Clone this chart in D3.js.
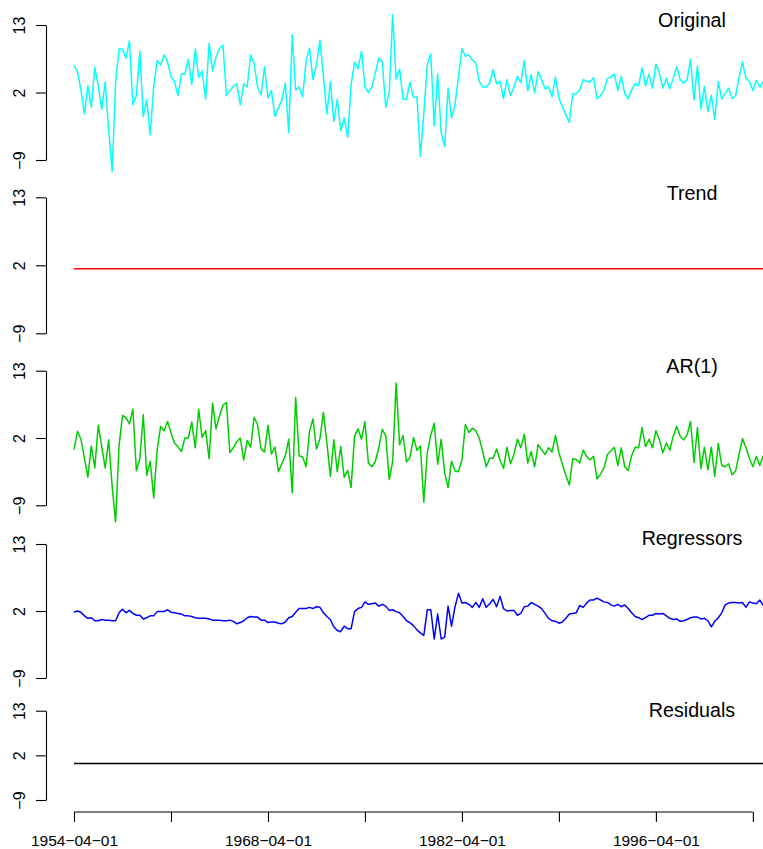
<!DOCTYPE html>
<html>
<head>
<meta charset="utf-8">
<script src="https://cdn.jsdelivr.net/npm/d3@7"></script>
<style>
    body { margin: 0; background: #ffffff; }
    svg { display: block; font-family: "Liberation Sans", Arial, sans-serif; }
</style>
</head>
<body>
<script>
//Quarterly series, first observation 1954-04-01
var original = [
    6.4, 5.4, 2.4, -1.5, 3.1, -0.4, 6.1, 3.0, -0.7, 3.7,
    -4.1, -10.9, 3.6, 9.1, 9.1, 7.6, 10.4, 0.0, 1.5, 8.7,
    -1.9, 0.8, -4.9, 3.0, 7.2, 6.5, 8.1, 7.0, 4.6, 3.8,
    1.5, 5.0, 5.0, 7.4, 3.3, 9.1, 4.5, 5.5, 0.9, 10.0,
    5.5, 7.8, 9.2, 9.7, 1.5, 2.3, 3.0, 3.4, 0.0, 3.4,
    2.9, 8.1, 6.8, 2.9, 1.6, 6.2, 1.1, 2.3, -1.9, -0.5,
    0.8, 3.5, -4.5, 11.4, 2.4, 2.9, 1.3, 7.2, 9.2, 4.1,
    6.5, 10.5, 4.6, -1.5, 3.8, -2.7, 0.9, -4.2, -2.2, -5.3,
    3.3, 6.9, 5.9, 8.7, 3.0, 2.0, 2.9, 5.2, 7.6, 7.0,
    -0.4, 1.9, 14.7, 4.2, 5.8, 0.9, 0.9, 3.7, 1.2, 1.3,
    -8.4, -1.4, 6.5, 8.3, -3.4, 5.0, -4.6, -6.8, 2.7, -2.2,
    0.0, 4.6, 9.1, 7.9, 8.1, 7.3, 6.8, 3.8, 2.9, 2.9,
    3.5, 5.7, 3.4, 3.8, 1.0, 4.1, 1.5, 2.9, 4.6, 3.6,
    7.2, 2.3, 4.9, 1.9, 5.4, 4.1, 2.6, 2.9, 1.3, 4.5,
    1.1, -0.3, -1.6, -2.9, 1.8, 1.8, 2.4, 4.1, 3.8, 3.7,
    4.4, 1.0, 1.5, 2.4, 4.3, 4.5, 5.0, 2.3, 4.6, 1.8,
    1.0, 2.4, 3.5, 3.1, 6.0, 3.1, 5.0, 2.7, 6.6, 5.2,
    2.7, 4.3, 2.6, 4.3, 6.2, 4.1, 3.5, 4.1, 7.4, 0.8,
    6.3, -0.7, 3.0, -1.1, 1.5, -2.4, 3.8, 0.9, 1.9, 2.7,
    1.0, 1.5, 4.4, 7.0, 4.3, 3.8, 2.3, 4.0, 2.9, 3.8
];

var ar1 = [
    0.1, 3.1, 1.8, -1.3, -4.4, 0.7, -2.9, 4.1, 0.6, -2.9,
    1.7, -5.9, -11.7, 0.7, 5.7, 5.3, 4.3, 6.7, -3.3, -1.4,
    5.8, -4.1, -1.8, -7.8, 0.1, 3.9, 3.2, 4.7, 2.9, 1.2,
    0.6, -0.2, 2.0, 2.0, 4.6, 0.4, 6.7, 2.1, 3.2, -1.4,
    7.7, 3.5, 5.6, 7.4, 7.8, -0.4, 0.4, 1.4, 2.0, -1.6,
    1.6, 0.5, 5.4, 4.2, 0.2, -0.3, 4.1, -0.6, 0.5, -3.5,
    -2.2, -0.9, 1.8, -7.0, 8.6, -0.9, -1.1, -2.7, 3.1, 5.1,
    0.2, 1.9, 6.2, 1.2, -4.3, 1.7, -3.5, 0.6, -4.4, -3.3,
    -6.1, 2.3, 3.5, 1.8, 4.7, -2.1, -2.7, -1.8, 0.4, 3.4,
    2.3, -4.8, -1.8, 11.0, 0.9, 2.4, -1.9, -1.2, 2.1, 0.0,
    0.7, -8.5, -0.4, 2.5, 4.4, -2.3, 1.8, -3.7, -6.1, -1.8,
    -3.4, -3.5, -1.6, 4.2, 2.9, 3.6, 3.2, 2.0, -0.2, -2.7,
    -1.3, -1.3, 0.2, -1.6, -3.0, 0.5, -2.2, -0.7, 1.8, 0.4,
    2.6, -2.1, -0.2, -2.7, 0.9, 0.1, -0.7, 0.4, -0.3, 2.4,
    -0.4, -2.3, -4.1, -5.7, -1.4, -1.5, -2.1, 0.0, -1.0, -1.6,
    -1.0, -4.7, -3.9, -2.9, -0.7, -0.1, 0.5, -2.5, 0.4, -2.7,
    -3.3, -0.9, 0.5, 0.4, 3.7, 0.6, 1.8, 0.4, 3.2, 1.7,
    -0.4, 1.2, 0.0, 2.3, 3.9, 2.3, 1.7, 2.5, 4.7, -2.0,
    3.7, -3.0, 0.5, -3.2, 0.5, -4.3, 1.1, -2.5, -2.7, -2.2,
    -4.0, -3.4, -0.7, 1.9, 0.4, -1.3, -2.7, -1.0, -2.5, -0.9
];

var regressors = [
    1.8, 2.0, 1.8, 1.2, 0.8, 0.9, 0.4, 0.4, 0.6, 0.5,
    0.5, 0.4, 0.4, 1.7, 2.3, 1.7, 2.1, 1.6, 1.3, 1.3,
    0.7, 0.9, 1.2, 1.2, 1.9, 1.9, 1.9, 2.2, 1.8, 1.7,
    1.6, 1.5, 1.2, 1.2, 1.1, 0.9, 0.8, 0.8, 0.8, 0.7,
    0.5, 0.5, 0.5, 0.4, 0.4, 0.5, 0.3, -0.1, 0.1, 0.4,
    0.9, 1.1, 1.0, 1.0, 0.5, 0.5, 0.1, 0.2, 0.2, 0.0,
    -0.1, 0.2, 0.9, 1.1, 1.8, 2.4, 2.4, 2.4, 2.6, 2.4,
    2.7, 2.6, 1.7, 1.1, 0.6, -0.6, -1.2, -1.4, -0.5, -0.9,
    -0.9, 1.9, 2.4, 2.6, 3.5, 3.1, 3.2, 3.3, 2.8, 3.1,
    2.8, 2.1, 2.2, 1.9, 1.7, 1.1, 0.4, 0.1, -0.4, -1.1,
    -1.6, -2.0, 2.2, 2.2, -2.6, 1.5, -2.6, -2.3, 2.8, -0.5,
    2.7, 4.9, 3.3, 3.4, 3.1, 2.6, 3.4, 2.6, 4.0, 2.6,
    3.2, 3.9, 2.7, 4.4, 2.4, 2.0, 2.1, 2.1, 1.3, 1.6,
    2.7, 2.8, 3.4, 3.1, 2.8, 2.4, 1.6, 0.8, 0.4, 0.3,
    0.0, 0.2, 0.8, 1.5, 1.6, 1.7, 2.9, 2.6, 3.3, 3.8,
    3.8, 4.1, 3.8, 3.5, 3.4, 3.0, 2.8, 3.1, 2.7, 3.0,
    2.4, 1.7, 1.1, 0.9, 0.6, 0.9, 1.3, 1.3, 1.6, 1.5,
    1.6, 1.2, 0.8, 0.6, 0.7, 0.3, 0.4, 0.6, 0.9, 1.0,
    1.0, 0.7, 0.8, 0.4, -0.6, 0.3, 0.9, 1.7, 3.0, 3.3,
    3.4, 3.4, 3.3, 3.4, 2.6, 3.5, 3.3, 3.2, 3.8, 2.9
];

//Trend and residuals are flat: value at first and last quarter
var trend = [1.45, 1.45];
var residuals = [0.0, 0.0];

var panelTitles = ["Original", "Trend", "AR(1)", "Regressors", "Residuals"];
var yTicks = [13, 2, -9];
var xTickDates = ["1954-04-01", "1961-04-01", "1968-04-01", "1975-04-01",
    "1982-04-01", "1989-04-01", "1996-04-01", "2003-04-01"];
var xTickLabels = ["1954\u221204\u221201", "", "1968\u221204\u221201", "",
    "1982\u221204\u221201", "", "1996\u221204\u221201", ""];

//Page size
var width = 763,
    height = 849;

var parseDate = d3.timeParse("%Y-%m-%d");
var startDate = parseDate("1954-04-01");

//One date per quarter
var dates = original.map(function(d, i) {
    return d3.timeMonth.offset(startDate, 3 * i);
});
var endDate = dates[dates.length - 1];

//Pixel rows of the 13 and -9 ticks for each panel, plus title baseline
var panels = [
    {series: original, color: "#00ffff", top: 25, bottom: 160, titleY: 26.5},
    {series: trend, color: "#ff0000", top: 197.3, bottom: 333.3, titleY: 200},
    {series: ar1, color: "#00cd00", top: 370.7, bottom: 505.3, titleY: 372.7},
    {series: regressors, color: "#0000ff", top: 544, bottom: 678, titleY: 545},
    {series: residuals, color: "#000000", top: 710.7, bottom: 800, titleY: 716.7}
];

var svg = d3.select("body").append("svg")
    .attr("width", width)
    .attr("height", height);

svg.append("rect")
    .attr("width", width)
    .attr("height", height)
    .attr("fill", "#ffffff");

//Shared time scale
var x = d3.scaleTime()
    .domain([startDate, endDate])
    .range([74, 763.3]);

var axisX = 46;

panels.forEach(function(p, k) {
    var y = d3.scaleLinear()
        .domain([-9, 13])
        .range([p.bottom, p.top]);

    //Y axis with rotated labels
    var gy = svg.append("g")
        .attr("transform", "translate(" + axisX + ",0)")
        .call(d3.axisLeft(y)
            .tickValues(yTicks)
            .tickSize(10)
            .tickSizeOuter(0)
            .tickFormat(function(d) {
                return d < 0 ? "\u2212" + Math.abs(d) : d;
            }));
    gy.selectAll("path, line")
        .attr("stroke", "#000000")
        .attr("stroke-width", 1.1);
    gy.selectAll("text")
        .attr("transform", "rotate(-90)")
        .attr("x", 0)
        .attr("y", -21)
        .attr("dy", 0)
        .attr("text-anchor", "middle")
        .attr("fill", "#000000")
        .style("font-size", "16px")
        .style("font-family", "'Liberation Sans', Arial, sans-serif");

    //Series line, flat panels use first and last date
    var xs = p.series.length === 2 ? [startDate, endDate] : dates;
    var line = d3.line()
        .x(function(d, i) { return x(xs[i]); })
        .y(function(d) { return y(d); });

    svg.append("path")
        .datum(p.series)
        .attr("fill", "none")
        .attr("stroke", p.color)
        .attr("stroke-width", 1.5)
        .attr("stroke-linejoin", "round")
        .attr("d", line);

    //Panel title
    svg.append("text")
        .attr("x", 692)
        .attr("y", p.titleY)
        .attr("text-anchor", "middle")
        .style("font-size", "19.7px")
        .text(panelTitles[k]);
});

//Bottom date axis, line runs between first and last tick only
var tickDates = xTickDates.map(parseDate);
var gx = svg.append("g")
    .attr("transform", "translate(0,812)")
    .call(d3.axisBottom(x)
        .tickValues(tickDates)
        .tickSize(10)
        .tickSizeOuter(0)
        .tickFormat(function(d, i) { return xTickLabels[i]; }));
gx.select(".domain").remove();
gx.append("line")
    .attr("x1", x(tickDates[0]))
    .attr("x2", x(tickDates[tickDates.length - 1]))
    .attr("stroke", "#000000")
    .attr("stroke-width", 1.1);
gx.selectAll("line")
    .attr("stroke", "#000000")
    .attr("stroke-width", 1.1);
gx.selectAll("text")
    .attr("y", 34)
    .attr("dy", 0)
    .attr("fill", "#000000")
    .style("font-size", "15.5px")
    .style("font-family", "'Liberation Sans', Arial, sans-serif");
</script>
</body>
</html>
